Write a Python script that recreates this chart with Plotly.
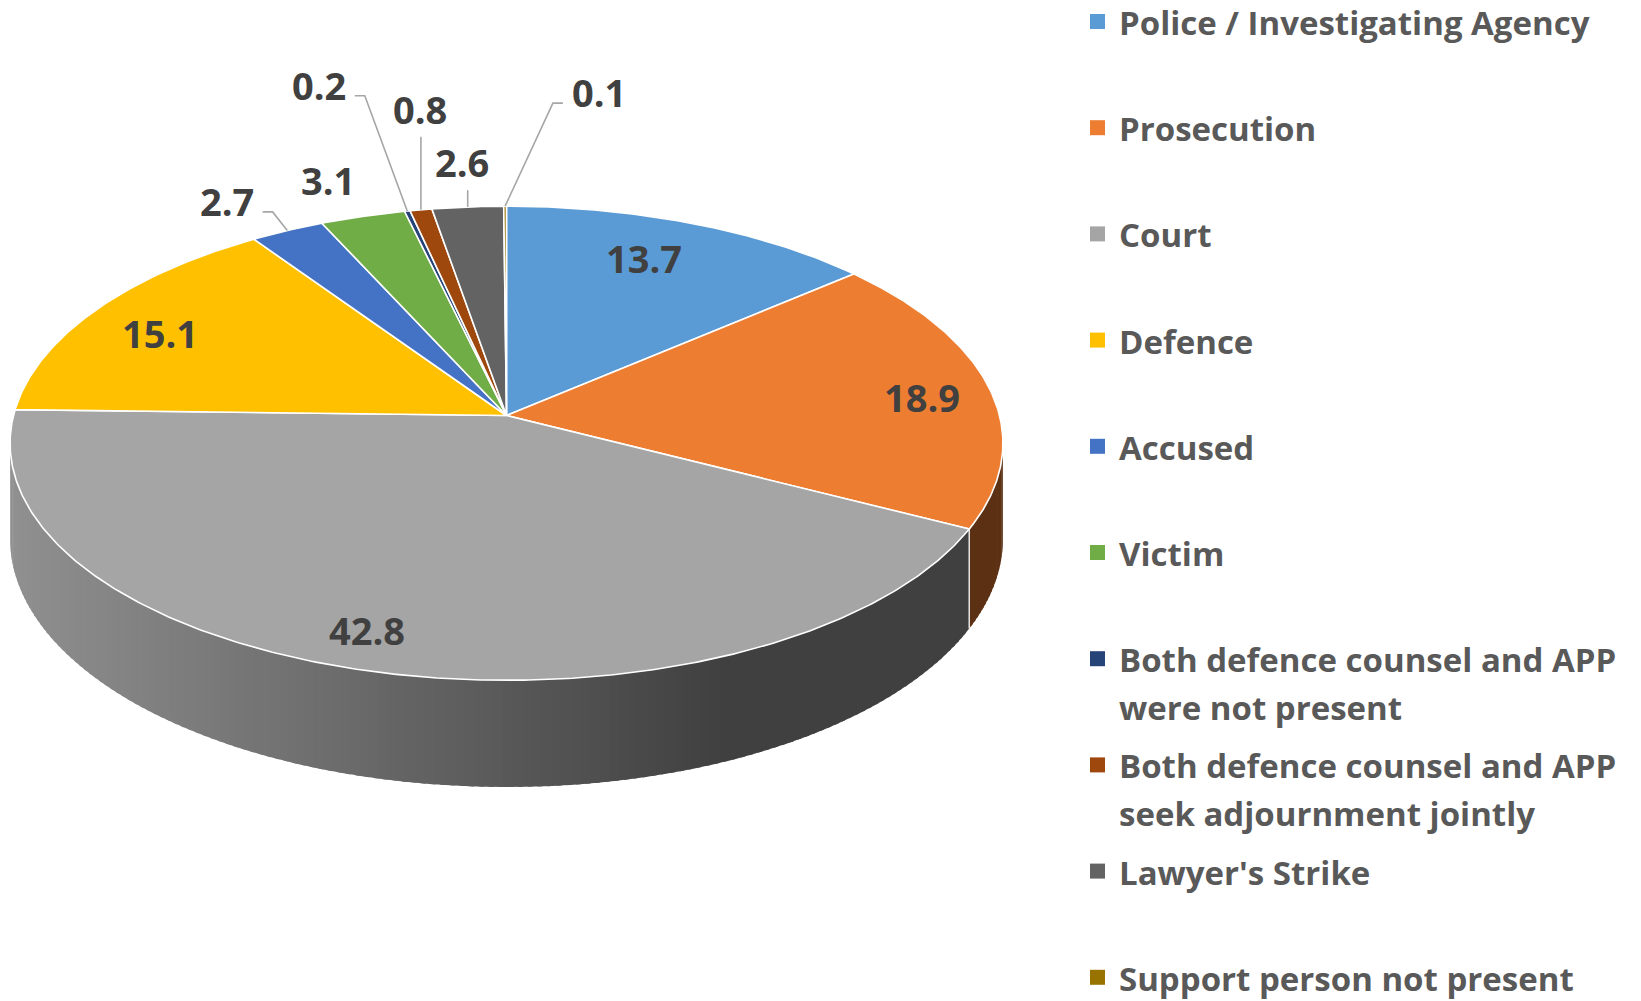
import numpy as np
import plotly.graph_objects as go

# ---------------- data ----------------
categories = [
    "Police / Investigating Agency",
    "Prosecution",
    "Court",
    "Defence",
    "Accused",
    "Victim",
    "Both defence counsel and APP<br>were not present",
    "Both defence counsel and APP<br>seek adjournment jointly",
    "Lawyer's Strike",
    "Support person not present",
]
values = [13.7, 18.9, 42.8, 15.1, 2.7, 3.1, 0.2, 0.8, 2.6, 0.1]
colors = ["#5B9BD5", "#ED7D31", "#A5A5A5", "#FFC000", "#4472C4",
          "#70AD47", "#264478", "#9E480E", "#636363", "#997300"]

# label placement (radial factor, angular offset in degrees) and leader style
label_r = [0.79, 0.855, 0.867, 0.821, 1.209, 1.213, 1.756, 1.564, 1.245, 1.665]
label_dtheta = [-2.2, 1.2, 2.7, -1.9, -2.4, -0.9, -2.1, 3.5, 0.3, 7.9]
leader = ["none", "none", "none", "none", "elbow", "none", "elbow", "vertical", "vertical", "elbow"]

# ---------------- geometry (pixel space) ----------------
W, H = 1641, 1001
CX, CY = 506.5, 415.5
A, B = 493.0, 233.8
P = 0.117
DEPTH = 94.2


def proj(theta_deg, r=1.0, h=0.0):
    t = np.radians(theta_deg)
    X = r * np.sin(t)
    Z = r * np.cos(t)
    w = 1 + P * Z
    return CX + A * X / w, CY - B * Z / w + h / w


def shade(hex_color, f):
    hc = hex_color.lstrip("#")
    rgb = [int(hc[i:i + 2], 16) for i in (0, 2, 4)]
    return "rgb(%d,%d,%d)" % tuple(int(round(c * f)) for c in rgb)


total = float(sum(values))
cum = np.concatenate([[0.0], np.cumsum(values)]) / total * 360.0
starts, ends = cum[:-1], cum[1:]
mids = (starts + ends) / 2

fig = go.Figure()

# ---------------- side walls (visible between the silhouette tangents) ----------------
WALL_LO = float(np.degrees(np.arccos(-P)))
WALL_HI = 360.0 - WALL_LO
for i in range(len(values)):
    a0, a1 = max(starts[i], WALL_LO), min(ends[i], WALL_HI)
    if a1 <= a0:
        continue
    n = max(1, int(np.ceil((a1 - a0) / 1.0)))
    edges = np.linspace(a0, a1, n + 1)
    for k in range(n):
        t0 = edges[k]
        t1 = min(edges[k + 1] + 0.5, a1) if k < n - 1 else edges[k + 1]
        ts = np.linspace(t0, t1, 4)
        xt, yt = proj(ts)
        xb, yb = proj(ts[::-1], h=DEPTH)
        xs = np.concatenate([xt, xb, xt[:1]])
        ys = np.concatenate([yt, yb, yt[:1]])
        xm = float(np.mean(xt))
        f = 0.87 - (0.87 - 0.39) * np.clip((xm - 15) / (720 - 15), 0, 1)
        fig.add_trace(go.Scatter(x=xs, y=ys, mode="lines", fill="toself",
                                 fillcolor=shade(colors[i], f),
                                 line=dict(width=0, color=shade(colors[i], f)),
                                 hoverinfo="skip", showlegend=False))

# boundaries on the wall
for b in cum[1:-1]:
    if WALL_LO < b < WALL_HI:
        x0, y0 = proj(b)
        x1, y1 = proj(b, h=DEPTH)
        fig.add_trace(go.Scatter(x=[x0, x1], y=[y0, y1], mode="lines",
                                 line=dict(color="rgba(255,255,255,0.85)", width=1.5),
                                 hoverinfo="skip", showlegend=False))

# ---------------- top faces ----------------
for i in range(len(values)):
    n = max(2, int(np.ceil((ends[i] - starts[i]) / 0.5)) + 1)
    ts = np.linspace(starts[i], ends[i], n)
    xa, ya = proj(ts)
    xs = np.concatenate([[CX], xa, [CX]])
    ys = np.concatenate([[CY], ya, [CY]])
    fig.add_trace(go.Scatter(x=xs, y=ys, mode="lines", fill="toself",
                             fillcolor=colors[i],
                             line=dict(color="white", width=1.6),
                             hoverinfo="skip", showlegend=False,
                             name=categories[i].replace("<br>", " ")))

# ---------------- data labels and leaders ----------------
LABEL_FONT = dict(family="'Open Sans', Lato, sans-serif", size=38, color="#404040")
for i in range(len(values)):
    lx, ly = proj(mids[i] + label_dtheta[i], label_r[i])
    fig.add_annotation(x=lx, y=ly, text="<b>%.1f</b>" % values[i], showarrow=False,
                       xanchor="center", yanchor="middle", font=LABEL_FONT, borderpad=0)
    ex, ey = proj(mids[i], 1.0)
    if leader[i] == "elbow":
        side = 1 if ex > lx else -1
        tx0 = lx + side * 36
        tx1 = lx + side * 46
        ty = ly + 11
        xs, ys = [tx0, tx1, ex], [ty, ty, ey]
    elif leader[i] == "vertical":
        xs, ys = [ex, ex], [ly + 28, ey]
    else:
        continue
    fig.add_trace(go.Scatter(x=xs, y=ys, mode="lines",
                             line=dict(color="#A6A6A6", width=1.6),
                             hoverinfo="skip", showlegend=False))

# ---------------- legend ----------------
LEG_X, LEG_Y0, LEG_STEP, LINE_STEP = 1097.5, 21.5, 106.2, 48
LEG_FONT = dict(family="'Open Sans', Lato, sans-serif", size=33, color="#595959")
leg_y = [LEG_Y0 + i * LEG_STEP for i in range(len(categories))]
fig.add_trace(go.Scatter(x=[LEG_X] * len(categories), y=leg_y, mode="markers",
                         marker=dict(symbol="square", size=15, color=colors,
                                     line=dict(width=0)),
                         hoverinfo="skip", showlegend=False))
for i, cat in enumerate(categories):
    for k, line in enumerate(cat.split("<br>")):
        fig.add_annotation(x=LEG_X + 20.5, y=leg_y[i] + 1 + k * LINE_STEP,
                           text="<b>%s</b>" % line, showarrow=False,
                           xanchor="left", yanchor="middle", font=LEG_FONT, borderpad=0)

fig.update_layout(
    width=W, height=H,
    margin=dict(l=0, r=0, t=0, b=0),
    paper_bgcolor="white", plot_bgcolor="white",
    xaxis=dict(range=[0, W], visible=False, fixedrange=True),
    yaxis=dict(range=[H, 0], visible=False, fixedrange=True),
    showlegend=False,
)

fig.write_html("out.html", config={"displayModeBar": False},
               post_script="document.body.style.margin='0';")
